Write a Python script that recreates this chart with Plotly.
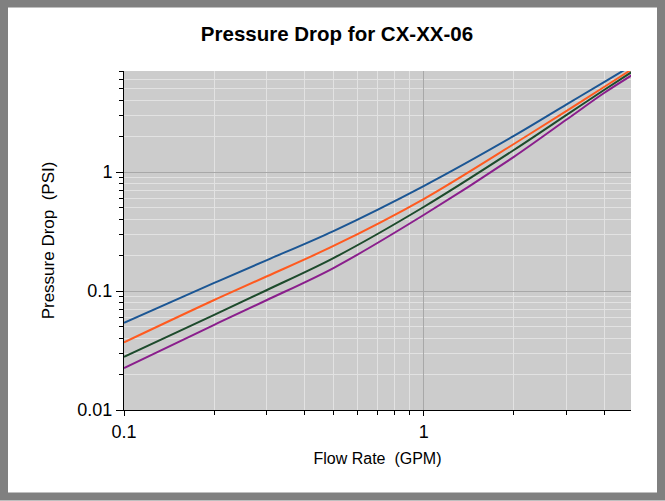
import plotly.graph_objects as go
import math

flow = [0.1, 0.2, 0.3, 0.5, 1, 2, 3, 4, 5]
series_names = ["Series 1", "Series 2", "Series 3", "Series 4"]
blue = [0.054, 0.117, 0.182, 0.319, 0.762, 2.01, 3.70, 5.70, 7.96]
orange = [0.037, 0.084, 0.133, 0.239, 0.593, 1.72, 3.27, 5.18, 7.4]
green = [0.028, 0.063, 0.102, 0.189, 0.508, 1.53, 3.02, 4.89, 7.05]
purple = [0.0225, 0.052, 0.084, 0.156, 0.435, 1.34, 2.76, 4.61, 6.6]
colors = ["#1B5694", "#FF5A1F", "#1D4B2C", "#8A1E8C"]

x_major = [0.1, 1]
x_major_text = ["0.1", "1"]
x_minor = [0.2, 0.3, 0.4, 0.5, 0.6, 0.7, 0.8, 0.9, 2, 3, 4]
y_major = [0.01, 0.1, 1]
y_major_text = ["0.01", "0.1", "1"]
y_minor = [0.02, 0.03, 0.04, 0.05, 0.06, 0.07, 0.08, 0.09,
           0.2, 0.3, 0.4, 0.5, 0.6, 0.7, 0.8, 0.9,
           2, 3, 4, 5, 6, 7]

fig = go.Figure()
for name, ys, c in zip(series_names, [blue, orange, green, purple], colors):
    fig.add_trace(go.Scatter(x=flow, y=ys, mode="lines", name=name,
                             line=dict(color=c, width=2, shape="spline", smoothing=0.9)))

W, H = 665, 501
L, R, T, B = 124, 631, 71, 410
pw, ph = R - L, B - T

def px2paper(px, py):
    return (px - L) / pw, (B - py) / ph

x0, y0 = px2paper(4, 496.5)
x1, y1 = px2paper(661, 3.5)

fig.update_layout(
    width=W, height=H,
    margin=dict(l=L, r=W - R, t=T, b=H - B),
    paper_bgcolor="white",
    plot_bgcolor="#cccccc",
    showlegend=False,
    font=dict(family="Liberation Sans, Arial, sans-serif", color="black"),
    title=dict(text="<b>Pressure Drop for CX-XX-06</b>", x=337 / W, xanchor="center",
               y=1 - 34 / H, yanchor="middle", font=dict(size=20.5, color="black")),
    shapes=[dict(type="rect", xref="paper", yref="paper", x0=x0, y0=y0, x1=x1, y1=y1,
                 line=dict(color="#808080", width=8), fillcolor="rgba(0,0,0,0)", layer="above")],
    xaxis=dict(
        type="log", range=[-1, math.log10(4.92)],
        tickmode="array", tickvals=x_major, ticktext=x_major_text,
        ticks="outside", ticklen=5, tickcolor="black", tickwidth=1,
        showline=True, linecolor="black", linewidth=1,
        showgrid=True, gridcolor="#a8a8a8", gridwidth=1,
        tickfont=dict(size=18),
        minor=dict(tickmode="array", tickvals=x_minor, ticks="outside", ticklen=4,
                   tickcolor="black", showgrid=True, gridcolor="#e2e2e2", gridwidth=1),
        title=dict(text="Flow Rate  (GPM)", font=dict(size=16), standoff=12),
        zeroline=False,
    ),
    yaxis=dict(
        type="log", range=[-2, math.log10(7.06)],
        tickmode="array", tickvals=y_major, ticktext=y_major_text,
        ticks="outside", ticklen=7, tickcolor="black", tickwidth=1,
        showline=True, linecolor="black", linewidth=1,
        showgrid=True, gridcolor="#a8a8a8", gridwidth=1,
        tickfont=dict(size=18),
        minor=dict(tickmode="array", tickvals=y_minor, ticks="outside", ticklen=4,
                   tickcolor="black", showgrid=True, gridcolor="#e2e2e2", gridwidth=1),
        title=dict(text="Pressure Drop  (PSI)", font=dict(size=17), standoff=18),
        zeroline=False,
    ),
)

fig.write_html("out.html", config={"displayModeBar": False},
               post_script="document.body.style.margin='0';")
